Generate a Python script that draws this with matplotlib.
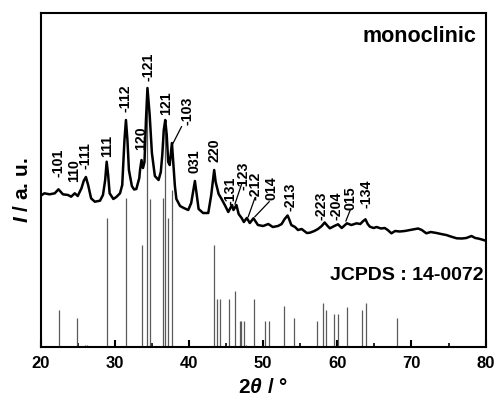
import matplotlib

matplotlib.use("Agg")
import matplotlib.pyplot as plt
from matplotlib.ticker import MultipleLocator, NullLocator

# measured pattern, 2theta (deg) vs intensity (arb. units)
two_theta = [
    20.0, 20.5, 21.2, 21.9, 22.4, 23.0, 23.7, 24.1, 24.6, 25.0,
    25.5, 25.8, 26.1, 26.4, 26.8, 27.3, 28.0, 28.4, 28.7, 28.9,
    29.1, 29.3, 29.8, 30.2, 30.7, 31.0, 31.1, 31.3, 31.5, 31.7,
    31.9, 32.3, 32.6, 32.9, 33.3, 33.4, 33.6, 33.8, 34.0, 34.2,
    34.4, 34.7, 35.0, 35.4, 35.9, 36.2, 36.4, 36.6, 36.8, 37.0,
    37.2, 37.4, 37.7, 37.9, 38.1, 38.3, 38.8, 39.3, 39.9, 40.3,
    40.6, 40.8, 41.0, 41.3, 41.9, 42.6, 43.0, 43.4, 43.6, 44.0,
    44.4, 44.9, 45.3, 45.8, 46.0, 46.4, 46.7, 47.1, 47.4, 47.8,
    48.2, 48.7, 49.3, 50.0, 50.7, 51.3, 52.0, 52.5, 52.9, 53.3,
    53.5, 53.8, 54.3, 54.7, 55.2, 55.9, 56.3, 56.9, 57.4, 57.9,
    58.3, 58.7, 59.0, 59.6, 60.1, 60.6, 60.9, 61.3, 61.9, 62.6,
    63.1, 63.5, 63.8, 64.1, 64.4, 64.9, 65.3, 65.9, 66.4, 66.8,
    67.3, 67.8, 68.4, 69.1, 69.8, 70.5, 70.9, 71.4, 72.0, 72.6,
    73.4, 74.0, 74.7, 75.3, 76.1, 76.8, 77.4, 78.1, 78.6, 79.0,
    79.5, 80.0,
]
intensity = [
    151.0, 153.4, 152.4, 153.4, 157.4, 152.4, 151.7, 150.0, 153.4, 150.7,
    158.4, 165.7, 169.7, 161.7, 148.4, 145.0, 146.0, 151.7, 166.7, 185.0,
    171.7, 153.4, 147.7, 149.7, 153.4, 161.7, 176.7, 206.7, 226.7, 206.7,
    176.7, 160.7, 157.2, 157.7, 168.7, 176.7, 186.7, 178.7, 184.7, 226.7,
    258.7, 231.7, 193.7, 170.7, 166.7, 174.7, 191.7, 216.7, 226.7, 211.7,
    184.7, 181.7, 203.7, 181.7, 160.7, 147.7, 140.7, 138.7, 136.7, 143.7,
    156.7, 165.7, 154.7, 137.7, 133.7, 133.7, 151.7, 176.7, 164.7, 152.7,
    147.7, 140.7, 134.7, 141.7, 136.7, 141.7, 132.7, 128.7, 124.7, 128.7,
    123.7, 128.4, 121.7, 120.7, 122.7, 119.7, 120.7, 122.7, 127.7, 131.2,
    127.7, 121.7, 119.7, 116.7, 117.7, 113.7, 114.0, 115.7, 117.7, 120.7,
    124.2, 120.7, 118.4, 120.7, 122.4, 118.7, 120.7, 123.4, 121.7, 123.4,
    122.7, 125.7, 127.4, 122.7, 120.0, 118.7, 119.7, 118.2, 118.7, 116.7,
    113.4, 115.7, 115.2, 115.7, 116.7, 117.7, 118.2, 116.7, 113.4, 114.7,
    113.7, 112.7, 111.7, 110.2, 108.4, 108.2, 108.7, 110.7, 108.7, 108.2,
    107.2, 106.0,
]

# JCPDS 14-0072 reference sticks
jcpds_pos = [
    22.43, 24.94, 26.0, 26.2, 28.98, 31.54, 33.6, 34.37, 34.78, 36.53,
    36.8, 37.12, 37.66, 43.41, 43.73, 44.21, 45.43, 46.24, 46.9, 47.05,
    47.45, 47.68, 48.8, 50.28, 50.82, 52.84, 54.19, 57.3, 58.1, 58.51,
    59.5, 60.12, 61.34, 63.28, 63.82, 68.0,
]
jcpds_int = [
    36.7, 29.0, 1.5, 1.5, 128.7, 148.4, 101.7, 250.0, 147.7, 148.4,
    215.0, 128.7, 157.0, 101.7, 47.7, 47.7, 47.7, 55.4, 25.7, 25.7,
    25.7, 1.5, 47.7, 25.7, 25.7, 40.7, 29.0, 25.7, 43.4, 36.7,
    32.7, 32.7, 39.7, 36.7, 43.4, 29.0,
]

# peak indices and where their labels sit
hkl_labels = [
    "-101", "110", "-111", "111", "-112", "120", "-121", "121", "-103", "031",
    "220", "-131", "-123", "-212", "014", "-213", "-223", "-204", "015", "-134",
]
label_x = [
    22.37, 24.49, 26.11, 28.98, 31.50, 33.48, 34.51, 36.89, 39.77, 40.80,
    43.50, 45.62, 47.41, 49.03, 51.14, 53.71, 57.90, 59.85, 61.80, 63.95,
]
label_y = [
    169.7, 164.7, 177.7, 189.7, 234.7, 196.7, 265.7, 231.7, 221.7, 173.7,
    184.7, 141.7, 156.7, 146.7, 146.7, 135.7, 126.7, 126.7, 136.7, 138.7,
]

# leader lines from a label down to its peak
leader_x0 = [38.99, 47.10, 48.89, 50.82, 61.75]
leader_y0 = [220.0, 162.7, 148.7, 145.0, 136.7]
leader_x1 = [37.80, 46.20, 47.99, 48.89, 61.16]
leader_y1 = [202.7, 142.7, 130.0, 130.0, 125.7]


def main() -> None:
    plt.rcParams["font.family"] = ["Liberation Sans", "DejaVu Sans"]
    plt.rcParams["font.weight"] = "bold"
    plt.rcParams["mathtext.fontset"] = "custom"
    plt.rcParams["mathtext.it"] = "Liberation Sans:italic:bold"
    plt.rcParams["mathtext.rm"] = "Liberation Sans:bold"

    fig = plt.figure(figsize=(4.96, 4.01), dpi=100)
    ax = fig.add_axes([0.082, 0.1354, 0.897, 0.8314])

    ax.vlines(jcpds_pos, 0, jcpds_int, color="#5a5a5a", lw=0.9)
    ax.plot(two_theta, intensity, color="black", lw=1.8, solid_joinstyle="round")

    for text, x, y in zip(hkl_labels, label_x, label_y):
        ax.text(x, y, text, rotation=90, ha="center", va="bottom",
                fontsize=10.2, fontweight="bold")
    for x0, y0, x1, y1 in zip(leader_x0, leader_y0, leader_x1, leader_y1):
        ax.plot([x0, x1], [y0, y1], color="black", lw=0.9)

    ax.text(0.98, 0.93, "monoclinic", transform=ax.transAxes, ha="right",
            va="center", fontsize=15.5, fontweight="bold")
    ax.text(0.995, 0.215, "JCPDS : 14-0072", transform=ax.transAxes, ha="right",
            va="center", fontsize=14, fontweight="bold")

    ax.set_xlim(20, 80)
    ax.set_ylim(0, 333.4)
    ax.xaxis.set_major_locator(MultipleLocator(10))
    ax.xaxis.set_minor_locator(MultipleLocator(5))
    ax.yaxis.set_major_locator(NullLocator())
    ax.tick_params(axis="x", which="major", direction="in", length=5, width=1.5,
                   labelsize=12, pad=7)
    ax.tick_params(axis="x", which="minor", direction="in", length=3, width=1.2)
    for label in ax.get_xticklabels():
        label.set_fontweight("bold")
    for spine in ax.spines.values():
        spine.set_linewidth(1.5)

    ax.set_xlabel(r"2$\mathit{\theta}$ / °", fontsize=15, fontweight="bold")
    ax.xaxis.set_label_coords(0.5, -0.095)
    ax.set_ylabel(r"$\mathit{I}$ / a. u.", fontsize=15, fontweight="bold")
    ax.yaxis.set_label_coords(-0.02, 0.47)

    fig.savefig("out.png", dpi=100)
    plt.close(fig)


if __name__ == "__main__":
    main()
